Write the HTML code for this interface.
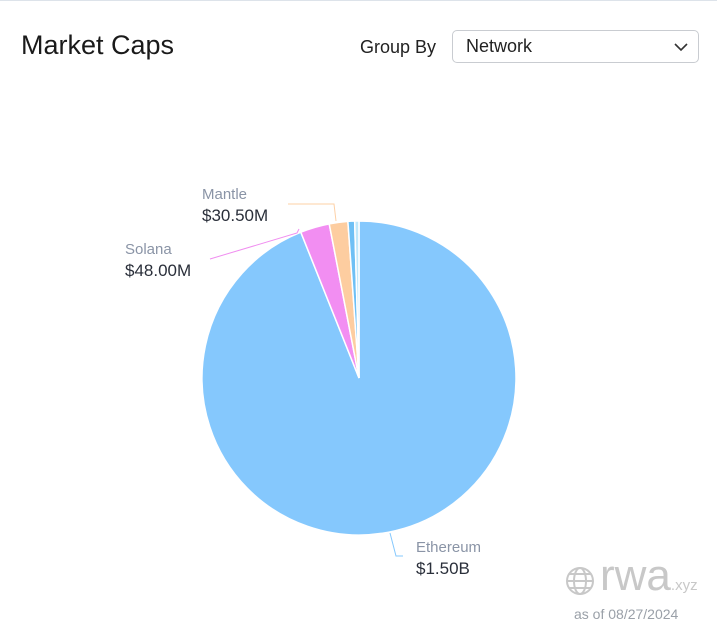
<!DOCTYPE html>
<html><head><meta charset="utf-8"><style>
body{margin:0;width:717px;height:627px;background:#fff;font-family:"Liberation Sans",sans-serif;overflow:hidden;position:relative}
.t{position:absolute}
</style></head><body>
<div class="t" style="left:0;top:0;width:717px;height:1px;background:#dde3ea"></div>
<div class="t" style="left:21px;top:30px;font-size:27px;color:#1a1a1a">Market Caps</div>
<div class="t" style="left:360px;top:37px;font-size:18px;color:#222">Group By</div>
<div class="t" style="left:452px;top:30px;width:247px;height:33px;border:1px solid #c9ccd1;border-radius:5px;box-sizing:border-box">
<span style="position:absolute;left:13px;top:5px;font-size:18px;color:#222">Network</span>
<svg style="position:absolute;right:10px;top:11px" width="14" height="10"><polyline points="1,2 7,8 13,2" fill="none" stroke="#333" stroke-width="1.6"/></svg>
</div>
<svg class="t" style="left:0;top:0" width="717" height="627">
<g id="pie"></g>
<polyline points="299,229 297,233 210,259" fill="none" stroke="#f08ef0" stroke-width="1"/>
<polyline points="336,221 334,204 288,204" fill="none" stroke="#fdd0a6" stroke-width="1"/>
<polyline points="390,533 396,556 403,556" fill="none" stroke="#85c8fd" stroke-width="1"/>
</svg>
<div class="t" style="left:202px;top:186px;font-size:15px;color:#8a94a6">Mantle</div>
<div class="t" style="left:202px;top:206px;font-size:17px;color:#2a2f3a">$30.50M</div>
<div class="t" style="left:125px;top:241px;font-size:15px;color:#8a94a6">Solana</div>
<div class="t" style="left:125px;top:261px;font-size:17px;color:#2a2f3a">$48.00M</div>
<div class="t" style="left:416px;top:539px;font-size:15px;color:#8a94a6">Ethereum</div>
<div class="t" style="left:416px;top:559px;font-size:17px;color:#2a2f3a">$1.50B</div>
<div class="t" style="left:564px;top:563px;color:#c8c8c8">
<svg width="32" height="32" style="position:absolute;left:0;top:2px"><g fill="none" stroke="#c8c8c8" stroke-width="2"><circle cx="16" cy="16" r="13"/><ellipse cx="16" cy="16" rx="6" ry="13"/><line x1="3" y1="16" x2="29" y2="16"/><line x1="5" y1="9" x2="27" y2="9"/><line x1="5" y1="23" x2="27" y2="23"/></g></svg>
<span style="position:absolute;left:36px;top:-12px;font-size:44px;white-space:nowrap">rwa<span style="font-size:15px">.xyz</span></span>
</div>
<div class="t" style="left:574px;top:606px;font-size:14px;color:#9aa0a8">as of 08/27/2024</div>
<script>
const categories=["Ethereum","Solana","Mantle","Other A","Other B"];
const values=[1500,48,30.5,11,7];
const colors=["#85c8fd","#f28ef2","#fdcda0","#6ec0f5","#bfe8fb"];
const cx=359,cy=378,r=157;
const total=values.reduce((a,b)=>a+b,0);
const g=document.getElementById('pie');
let a0=0;
values.forEach((v,i)=>{
  const a1=a0+v/total*2*Math.PI;
  const p=(a)=>[cx+r*Math.sin(a),cy-r*Math.cos(a)];
  const [x0,y0]=p(a0),[x1,y1]=p(a1);
  const large=(a1-a0)>Math.PI?1:0;
  const path=document.createElementNS('http://www.w3.org/2000/svg','path');
  path.setAttribute('d',`M${cx},${cy}L${x0},${y0}A${r},${r} 0 ${large} 1 ${x1},${y1}Z`);
  path.setAttribute('fill',colors[i]);
  path.setAttribute('stroke','#fff');
  path.setAttribute('stroke-width','1.5');
  
  
  g.appendChild(path);
  a0=a1;
});
</script>
</body></html>
